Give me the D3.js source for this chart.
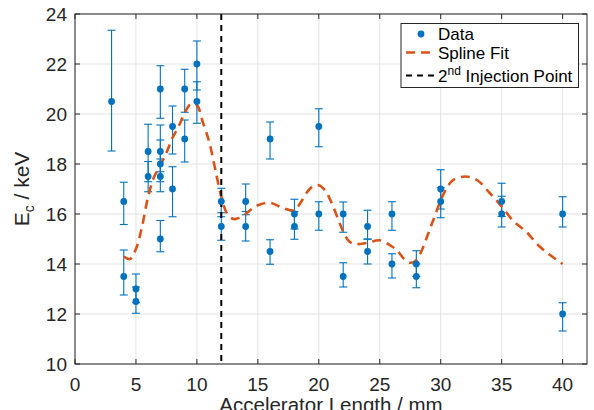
<!DOCTYPE html>
<html>
<head>
<meta charset="utf-8">
<script src="https://cdn.jsdelivr.net/npm/d3@7"></script>
<style>
  body { margin: 0; background: #fff; }
  svg { display: block; font-family: "Liberation Sans", Arial, Helvetica, sans-serif; }
</style>
</head>
<body>
<svg id="chart"></svg>
<script>
// measured data (accelerator length in mm, Ec in keV)
const dataX = [3, 4, 4, 5, 5, 6, 6, 7, 7, 7, 7, 7, 8, 8, 9, 9, 10, 10, 12, 12, 14, 14, 16, 16,
               18, 18, 20, 20, 22, 22, 24, 24, 26, 26, 28, 28, 30, 30, 35, 35, 40, 40];
const dataY = [20.5, 16.5, 13.5, 13, 12.5, 18.5, 17.5, 21, 18.5, 18, 17.5, 15, 19.5, 17, 21, 19, 22, 20.5, 16.5, 15.5, 16.5, 15.5, 19, 14.5,
               16, 15.5, 19.5, 16, 16, 13.5, 15.5, 14.5, 16, 14, 14, 13.5, 17, 16.5, 16.5, 16, 16, 12];
// error bar ends
const errLow = [18.52, 15.58, 12.76, 12.45, 12.03, 17.29, 16.89, 19.83, 17.69, 17.29, 16.89, 14.49, 18.4, 15.89, 20.07, 18.08, 20.96, 19.63, 15.89, 14.95, 15.97, 14.92, 18.2, 13.99,
                15.4, 14.99, 18.69, 15.35, 15.27, 13.08, 14.99, 14.0, 15.35, 13.44, 13.5, 13.05, 16.2, 15.85, 15.9, 15.48, 15.48, 11.32];
const errHigh = [23.35, 17.27, 14.56, 13.6, 13.08, 19.59, 18.1, 21.93, 19.56, 18.96, 18.2, 15.74, 20.32, 17.89, 21.79, 19.76, 22.92, 21.29, 17.03, 16.05, 17.2, 16.1, 19.68, 14.97,
                 16.59, 16.1, 20.21, 16.49, 16.48, 14.05, 16.15, 15.0, 16.49, 14.41, 14.53, 14.0, 17.77, 17.05, 17.23, 16.71, 16.69, 12.45];

// spline fit
const fitX = [4, 4.5, 5, 5.5, 6, 6.5, 7, 7.5, 8, 8.5, 9, 9.5, 10, 10.5, 11, 11.5, 12, 12.5, 13, 13.5, 14, 14.5, 15, 16, 17, 18, 18.5, 19, 19.5, 20,
              20.5, 21, 21.5, 22, 22.5, 23, 24, 25, 26, 26.5, 27, 27.5, 28, 28.5, 29, 29.5, 30, 30.5, 31, 32, 33, 34, 35, 36, 37, 38, 39, 40];
const fitY = [14.3, 14.2, 14.6, 15.5, 16.7, 17.5, 17.95, 18.45, 19.05, 19.5, 20.05, 20.4, 20.35, 19.65, 18.9, 17.8, 16.7, 16.0, 15.8, 15.85, 16.0, 16.2, 16.35, 16.45, 16.25, 16.15, 16.45, 16.85, 17.1, 17.15,
              16.95, 16.5, 15.9, 15.3, 14.9, 14.8, 14.85, 14.95, 14.7, 14.5, 14.2, 14.05, 14.15, 14.6, 15.25, 15.9, 16.55, 17.05, 17.35, 17.5, 17.35, 16.85, 16.3, 15.7, 15.3, 14.75, 14.35, 14.0];

const injectionX = 12;
const xTicks = [0, 5, 10, 15, 20, 25, 30, 35, 40];
const yTicks = [10, 12, 14, 16, 18, 20, 22, 24];

const width = 594, height = 410;
const margin = {top: 14, right: 7, bottom: 46, left: 75};
const blue = "#0072BD", orange = "#D95319", axisCol = "#262626";

const svg = d3.select("#chart").attr("width", width).attr("height", height);

const x = d3.scaleLinear().domain([0, 42]).range([margin.left, width - margin.right]);
const y = d3.scaleLinear().domain([10, 24]).range([height - margin.bottom, margin.top]);

// grid
svg.append("g").selectAll("line").data(xTicks).join("line")
  .attr("x1", d => x(d)).attr("x2", d => x(d))
  .attr("y1", y(10)).attr("y2", y(24))
  .attr("stroke", "#e3e3e3").attr("stroke-width", 1);
svg.append("g").selectAll("line").data(yTicks).join("line")
  .attr("x1", x(0)).attr("x2", x(42))
  .attr("y1", d => y(d)).attr("y2", d => y(d))
  .attr("stroke", "#e3e3e3").attr("stroke-width", 1);

// error bars
const eb = svg.append("g").attr("stroke", blue).attr("stroke-width", 1.1);
dataX.forEach((v, i) => {
  const cx = x(v);
  eb.append("line").attr("x1", cx).attr("x2", cx).attr("y1", y(errLow[i])).attr("y2", y(errHigh[i]));
  eb.append("line").attr("x1", cx - 4).attr("x2", cx + 4).attr("y1", y(errLow[i])).attr("y2", y(errLow[i]));
  eb.append("line").attr("x1", cx - 4).attr("x2", cx + 4).attr("y1", y(errHigh[i])).attr("y2", y(errHigh[i]));
});

// spline fit
const line = d3.line().x(d => x(d[0])).y(d => y(d[1])).curve(d3.curveCatmullRom);
svg.append("path")
  .datum(fitX.map((v, i) => [v, fitY[i]]))
  .attr("d", line)
  .attr("fill", "none")
  .attr("stroke", orange)
  .attr("stroke-width", 2.6)
  .attr("stroke-dasharray", "9,6");

// injection point
svg.append("line")
  .attr("x1", x(injectionX)).attr("x2", x(injectionX))
  .attr("y1", y(24)).attr("y2", y(10))
  .attr("stroke", "#000").attr("stroke-width", 2)
  .attr("stroke-dasharray", "6,5");

// data markers
svg.append("g").selectAll("circle").data(dataX).join("circle")
  .attr("cx", d => x(d))
  .attr("cy", (d, i) => y(dataY[i]))
  .attr("r", 3.4)
  .attr("fill", blue);

// axes (box with inward ticks)
const tickLen = 5;
const axG = svg.append("g").attr("stroke", axisCol).attr("stroke-width", 1);
axG.append("rect")
  .attr("x", x(0)).attr("y", y(24))
  .attr("width", x(42) - x(0)).attr("height", y(10) - y(24))
  .attr("fill", "none");
xTicks.forEach(t => {
  axG.append("line").attr("x1", x(t)).attr("x2", x(t)).attr("y1", y(10)).attr("y2", y(10) - tickLen);
  axG.append("line").attr("x1", x(t)).attr("x2", x(t)).attr("y1", y(24)).attr("y2", y(24) + tickLen);
});
yTicks.forEach(t => {
  axG.append("line").attr("x1", x(0)).attr("x2", x(0) + tickLen).attr("y1", y(t)).attr("y2", y(t));
  axG.append("line").attr("x1", x(42)).attr("x2", x(42) - tickLen).attr("y1", y(t)).attr("y2", y(t));
});

svg.append("g").selectAll("text").data(xTicks).join("text")
  .attr("x", d => x(d)).attr("y", y(10) + 27)
  .attr("text-anchor", "middle")
  .attr("font-size", 19).attr("fill", axisCol)
  .text(d => d);
svg.append("g").selectAll("text").data(yTicks).join("text")
  .attr("x", x(0) - 8).attr("y", d => y(d) + 7)
  .attr("text-anchor", "end")
  .attr("font-size", 19).attr("fill", axisCol)
  .text(d => d);

svg.append("text")
  .attr("x", (x(0) + x(42)) / 2).attr("y", 412)
  .attr("text-anchor", "middle")
  .attr("font-size", 20.5).attr("fill", axisCol)
  .text("Accelerator Length / mm");

const yl = svg.append("text")
  .attr("transform", `translate(29,${(y(10) + y(24)) / 2}) rotate(-90)`)
  .attr("text-anchor", "middle")
  .attr("font-size", 21).attr("fill", axisCol);
yl.append("tspan").text("E");
yl.append("tspan").attr("font-size", 14).attr("dy", 5).text("c");
yl.append("tspan").attr("dy", -5).text(" / keV");

// legend
const lg = svg.append("g");
lg.append("rect")
  .attr("x", 401).attr("y", 23.5).attr("width", 177.5).attr("height", 64)
  .attr("fill", "#fff").attr("stroke", axisCol).attr("stroke-width", 1);
lg.append("circle").attr("cx", 421).attr("cy", 34).attr("r", 3.4).attr("fill", blue);
lg.append("line").attr("x1", 406).attr("x2", 435).attr("y1", 52.5).attr("y2", 52.5)
  .attr("stroke", orange).attr("stroke-width", 2.6).attr("stroke-dasharray", "9,6");
lg.append("line").attr("x1", 406).attr("x2", 435).attr("y1", 75.5).attr("y2", 75.5)
  .attr("stroke", "#000").attr("stroke-width", 2).attr("stroke-dasharray", "6,5");
lg.append("text").attr("x", 438).attr("y", 40).attr("font-size", 17).attr("fill", "#000").text("Data");
lg.append("text").attr("x", 438).attr("y", 58.5).attr("font-size", 17).attr("fill", "#000").text("Spline Fit");
const inj = lg.append("text").attr("x", 438).attr("y", 82).attr("font-size", 17).attr("fill", "#000");
inj.append("tspan").text("2");
inj.append("tspan").attr("font-size", 12).attr("dy", -7).text("nd");
inj.append("tspan").attr("dy", 7).text(" Injection Point");
</script>
</body>
</html>
